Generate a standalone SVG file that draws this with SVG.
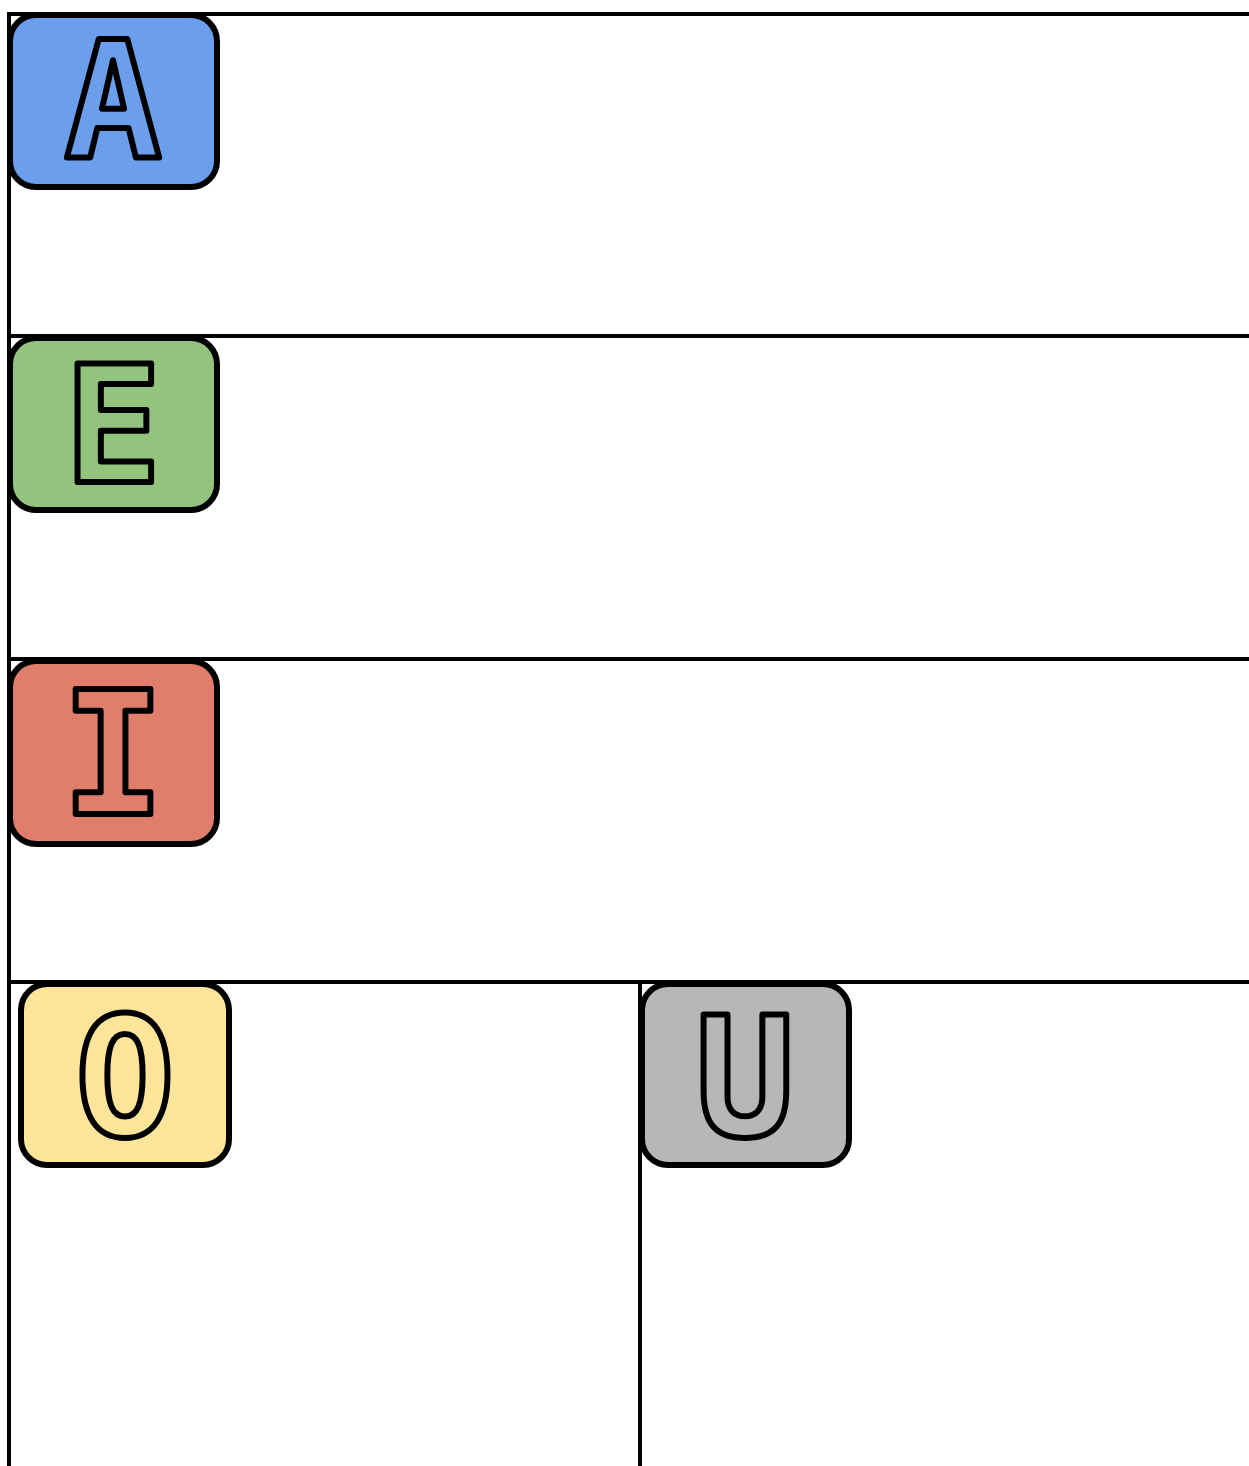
<svg xmlns="http://www.w3.org/2000/svg" width="1249" height="1466" viewBox="0 0 1249 1466">
<style>
.ln{stroke:#000;stroke-width:4;fill:none}
.box{stroke:#000;stroke-width:6}
.lt{font-family:"DejaVu Sans Mono",monospace;font-weight:bold;stroke:#000;stroke-width:6;stroke-linejoin:round;text-anchor:middle}
</style>
<rect width="1249" height="1466" fill="#fff"/>
<g id="connectors">
<line class="ln" x1="7" y1="14" x2="1249" y2="14"/>
<line class="ln" x1="7" y1="336" x2="1249" y2="336"/>
<line class="ln" x1="7" y1="659" x2="1249" y2="659"/>
<line class="ln" x1="7" y1="982" x2="1249" y2="982"/>
<line class="ln" x1="9" y1="12" x2="9" y2="1466"/>
<line class="ln" x1="640" y1="982" x2="640" y2="1466"/>
</g>
<g id="nodeA">
<rect class="box" x="10" y="15" width="207" height="172" rx="26" fill="#6b9eec"/>
<text class="lt" x="113" y="157" font-size="162" fill="#6b9eec">A</text>
</g>
<g id="nodeE">
<rect class="box" x="10" y="338" width="207" height="172" rx="26" fill="#93c47d"/>
<text class="lt" x="113" y="482" font-size="162" fill="#93c47d">E</text>
</g>
<g id="nodeI">
<rect class="box" x="10" y="661" width="207" height="183" rx="26" fill="#e07e6b"/>
<text class="lt" x="113" y="814" font-size="172" fill="#e07e6b">I</text>
</g>
<g id="nodeO">
<rect class="box" x="21" y="984" width="208" height="181" rx="26" fill="#ffe599"/>
<text class="lt" x="125" y="1136" font-size="166" fill="#ffe599">O</text>
</g>
<g id="nodeU">
<rect class="box" x="642" y="984" width="207" height="181" rx="26" fill="#b7b7b7"/>
<text class="lt" x="745" y="1136" font-size="166" fill="#b7b7b7">U</text>
</g>
</svg>
